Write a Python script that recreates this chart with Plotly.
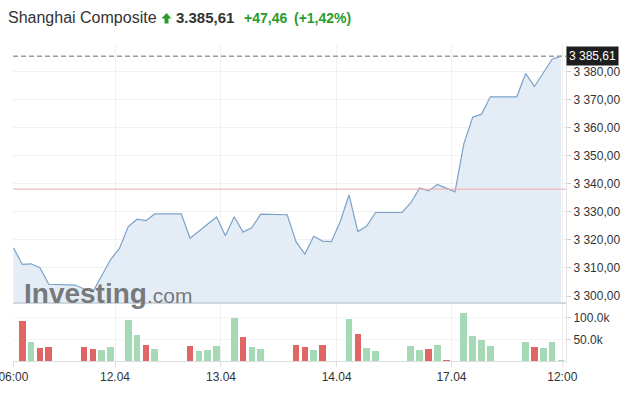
import plotly.graph_objects as go

# ---------------- data ----------------
# x positions are 30-minute slots on the chart's compressed trading-time axis
price_slot = [0, 1, 2, 3, 4, 7, 8, 9, 11, 12, 13, 14, 15, 16, 19, 20, 23, 24, 25, 26,
              27, 28, 31, 32, 33, 34, 35, 36, 37, 38, 39, 40, 41, 44, 45, 46, 47, 48, 49, 50,
              51, 52, 53, 54, 57, 58, 59, 60, 61, 62]
price_val = [3317.2, 3311.3, 3311.5, 3310.1, 3304.2, 3303.9, 3302.5, 3301.5, 3313.0, 3317.0,
             3324.8, 3327.4, 3326.9, 3329.3, 3329.3, 3320.6, 3328.2, 3321.5, 3328.3, 3322.8,
             3324.4, 3329.2, 3329.0, 3319.4, 3315.0, 3321.3, 3319.6, 3319.4, 3326.5, 3336.1,
             3323.0, 3325.0, 3329.8, 3329.8, 3333.3, 3338.6, 3337.5, 3339.8, 3338.5, 3337.2,
             3354.3, 3363.8, 3364.9, 3371.1, 3371.1, 3379.4, 3374.8, 3379.5, 3384.5, 3385.61]

vol_slot = [1, 2, 3, 4, 8, 9, 10, 11, 13, 14, 15, 16, 20, 21, 22, 23, 25, 26, 27, 28,
            32, 33, 34, 35, 38, 39, 40, 41, 45, 46, 47, 48, 49, 51, 52, 53, 54, 58, 59, 60, 61, 62]
vol_val = [92000, 44000, 30000, 32000, 32000, 28000, 25000, 32000, 95000, 60000, 37000, 28000,
           35000, 23000, 25000, 35000, 99000, 55000, 32000, 28000, 37000, 32000, 25000, 37000,
           97000, 62000, 30000, 23000, 35000, 25000, 28000, 37000, 2000, 111000, 58000, 48000,
           35000, 44000, 32000, 30000, 44000, 1200]
vol_up = [0, 1, 0, 0, 0, 0, 1, 1, 1, 1, 0, 1, 0, 1, 1, 1, 1, 0, 1, 1, 0, 0, 1, 0,
          1, 0, 1, 1, 1, 1, 0, 1, 0, 1, 1, 1, 1, 1, 0, 1, 1, 1]

tick_slot = [0, 11.5, 23.5, 36.6, 49.6, 62.15]
tick_text = ["06:00", "12.04", "13.04", "14.04", "17.04", "12:00"]

vol_tick_val = [50000, 100000]
vol_tick_text = ["50.0k", "100.0k"]

prev_close = 3338.15
last_price = 3385.61
title_name = "Shanghai Composite"
title_price = "3.385,61"
title_change = "+47,46"
title_pct = "(+1,42%)"

# ---------------- layout helpers ----------------
W, H = 627, 400
ML, MR, MT, MB = 13, 61, 45, 39
PW, PH = W - ML - MR, H - MT - MB
VOL_FRAC = 58 / PH


def px(x):
    return (x - ML) / PW


def py(y):
    return 1 - (y - MT) / PH


FONT = "Arial, Liberation Sans, sans-serif"
GREEN = "#2b9c2b"
RED_BAR = "#e06565"
GREEN_BAR = "#a6d9b6"

fig = go.Figure()

fig.add_trace(go.Scatter(
    x=price_slot, y=price_val, mode="lines", fill="tozeroy",
    fillcolor="#e4edf6", line=dict(color="#7aa2c9", width=1.2),
    xaxis="x", yaxis="y", hoverinfo="skip", showlegend=False))

fig.add_trace(go.Bar(
    x=vol_slot, y=vol_val, width=0.76,
    marker=dict(color=[GREEN_BAR if u else RED_BAR for u in vol_up], line=dict(width=0)),
    xaxis="x", yaxis="y2", hoverinfo="skip", showlegend=False))

# green up-arrow icon of the header (pixel geometry -> paper coords)
arrow_pts = [(161.5, 18.5), (166.5, 13), (171.5, 18.5), (168.5, 18.5), (168.5, 23.5),
             (164.5, 23.5), (164.5, 18.5)]
arrow_path = "M " + " L ".join(f"{px(x):.5f},{py(y):.5f}" for x, y in arrow_pts) + " Z"

fig.update_layout(
    width=W, height=H,
    margin=dict(l=ML, r=MR, t=MT, b=MB, autoexpand=False),
    paper_bgcolor="white", plot_bgcolor="white",
    separators=", ",
    font=dict(family=FONT, size=12, color="#333"),
    bargap=0,
    xaxis=dict(
        domain=[0, 1], anchor="y2", range=[-0.05, 62.57], automargin=False,
        tickmode="array", tickvals=tick_slot, ticktext=tick_text,
        ticklabeloverflow="allow",
        showgrid=True, gridcolor="#f1f1f1", gridwidth=1,
        showline=True, linecolor="#dddddd", linewidth=1,
        ticks="outside", ticklen=5, tickcolor="#dddddd",
        tickfont=dict(size=12, color="#333"), zeroline=False,
    ),
    yaxis=dict(
        domain=[VOL_FRAC, 1], anchor="x", side="right", automargin=False,
        range=[3297.5, 3389.6], tick0=3300, dtick=10, tickformat=",.2f",
        ticklabeloverflow="allow",
        showgrid=True, gridcolor="#f1f1f1", gridwidth=1,
        showline=True, linecolor="#e4e4e4", linewidth=1,
        ticks="outside", ticklen=4, tickcolor="#d0d0d0",
        tickfont=dict(size=12, color="#333"), zeroline=False,
    ),
    yaxis2=dict(
        domain=[0, VOL_FRAC], anchor="x", side="right", automargin=False,
        range=[0, 134000], tickmode="array", tickvals=vol_tick_val, ticktext=vol_tick_text,
        showgrid=True, gridcolor="#f4f4f4", gridwidth=1,
        showline=True, linecolor="#e4e4e4", linewidth=1,
        ticks="outside", ticklen=4, tickcolor="#d0d0d0",
        tickfont=dict(size=12, color="#333"), zeroline=False,
    ),
    shapes=[
        dict(type="line", xref="paper", yref="y", x0=0, x1=1, y0=prev_close, y1=prev_close,
             line=dict(color="#f2a7a7", width=1)),
        dict(type="line", xref="paper", yref="y", x0=0, x1=1, y0=last_price, y1=last_price,
             line=dict(color="#9c9c9c", width=1.5, dash="5px,3px")),
        dict(type="line", xref="paper", yref="paper", x0=0, x1=1, y0=VOL_FRAC, y1=VOL_FRAC,
             line=dict(color="#c3cad2", width=1.5)),
        dict(type="path", xref="paper", yref="paper", path=arrow_path,
             fillcolor=GREEN, line=dict(width=0)),
    ],
)

ann = []
# header
ann.append(dict(text=title_name, x=px(6), y=py(18), xanchor="left", yanchor="middle",
                font=dict(size=16, color="#333", family=FONT)))
ann.append(dict(text="<b>" + title_price + "</b>", x=px(174), y=py(18), xanchor="left",
                yanchor="middle", font=dict(size=15, color="#333", family=FONT)))
ann.append(dict(text="<b>" + title_change + "</b>", x=px(242), y=py(18), xanchor="left",
                yanchor="middle", font=dict(size=14, color=GREEN, family=FONT)))
ann.append(dict(text="<b>" + title_pct + "</b>", x=px(292), y=py(18), xanchor="left",
                yanchor="middle", font=dict(size=14, color=GREEN, family=FONT)))
# last price label on axis
ann.append(dict(text=f"{last_price:,.2f}".replace(",", " ").replace(".", ","),
                xref="paper", yref="y", x=1, y=last_price, xanchor="left", yanchor="middle",
                bgcolor="#1e1e1e", borderpad=2, font=dict(size=12, color="white", family=FONT)))
# watermark
ann.append(dict(text="<b>Investing</b><span style='font-size:21px'>.com</span>",
                x=px(22), y=py(311), xanchor="left", yanchor="bottom",
                font=dict(size=28, color="rgba(105,105,105,0.9)", family=FONT)))

for a in ann:
    a.setdefault("xref", "paper")
    a.setdefault("yref", "paper")
    a["showarrow"] = False
fig.update_layout(annotations=ann)

fig.write_html("out.html", config={"displayModeBar": False},
               post_script="document.body.style.margin='0';")
